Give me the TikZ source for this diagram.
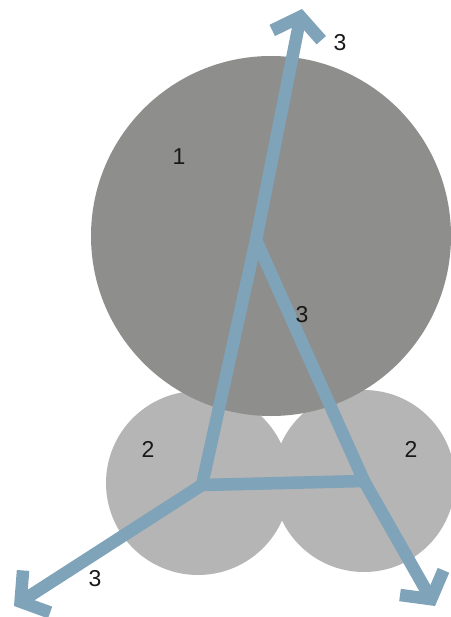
\documentclass[tikz,border=0pt]{standalone}
\usepackage{fontspec}
\setmainfont{Liberation Sans}
\usetikzlibrary{arrows.meta}
\definecolor{bigc}{HTML}{8E8E8C}
\definecolor{smallc}{HTML}{B5B5B5}
\definecolor{linkc}{HTML}{7FA3B8}
\tikzset{
  bigdisc/.style={fill=bigc, draw=none},
  smalldisc/.style={fill=smallc, draw=none},
  link/.style={draw=linkc, line width=12.5bp, line join=miter},
  arrowlink/.style={link, -{Straight Barb[length=19bp, width=50bp, line join=miter]}},
  lbl/.style={font=\fontsize{23bp}{25bp}\selectfont, text=black!90, inner sep=0pt}
}
\begin{document}
\begin{tikzpicture}[x=1bp, y=-1bp]
\useasboundingbox (0,0) rectangle (451,617);
% discs
\fill[smalldisc] (198,483) circle (92);
\fill[smalldisc] (364,481) circle (91);
\fill[bigdisc] (271,236) circle (180);
% vertices
\coordinate (V1) at (256,240);
\coordinate (V2) at (202,485);
\coordinate (V3) at (364,481);
\coordinate (T1) at (302,9);
\coordinate (T2) at (14,606);
\coordinate (T3) at (435,606);
% connectors
\draw[link] (V1) -- (V2) -- (V3) -- cycle;
\draw[arrowlink] (V1) -- (T1);
\draw[arrowlink] (V2) -- (T2);
\draw[arrowlink] (V3) -- (T3);
% labels
\node[lbl] (l1) at (179,157) {1};
\node[lbl] (l2a) at (148,449) {2};
\node[lbl] (l2b) at (411,449) {2};
\node[lbl] (l3a) at (340,43) {3};
\node[lbl] (l3b) at (302,315) {3};
\node[lbl] (l3c) at (95,579) {3};
\end{tikzpicture}
\end{document}
